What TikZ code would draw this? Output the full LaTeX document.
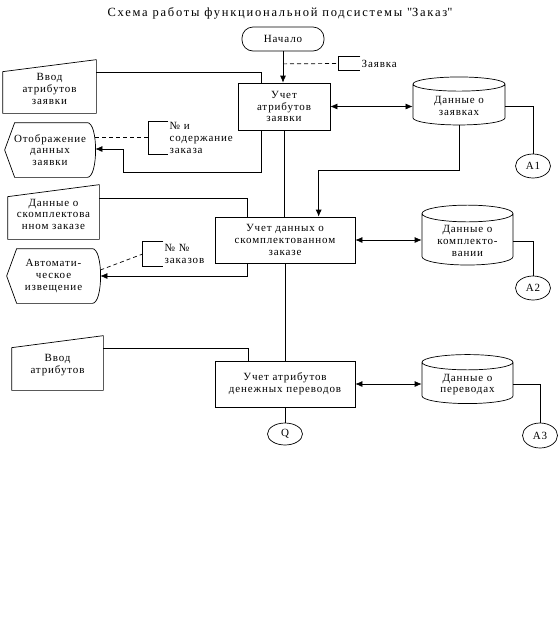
\documentclass[tikz,border=0pt]{standalone}
\usepackage{fontspec}
\setmainfont{Liberation Serif}[LetterSpace=8]
\usetikzlibrary{shapes.geometric,calc,positioning,arrows.meta}

\tikzset{
  proc/.style={draw, rectangle, align=center, minimum width=140pt, minimum height=46pt},
  db/.style={draw, cylinder, shape border rotate=90, aspect=0.25, align=center,
    minimum width=91pt, minimum height=48pt},
  conn/.style={draw, ellipse, inner sep=0pt, minimum width=35pt, minimum height=24pt},
  inbox/.style={rectangle, align=center, minimum width=91pt, minimum height=54pt},
  dispbox/.style={rectangle, align=center, minimum width=91pt, minimum height=54pt},
  brk/.style={rectangle, inner sep=0pt},
  note/.style={align=left, inner sep=1pt, anchor=west},
  dashline/.style={dash pattern=on 4pt off 3pt}
}

\begin{document}
\begin{tikzpicture}[x=1pt, y=-1pt, >={Latex[length=7pt,width=6pt]}, line width=0.7pt,
  every node/.style={font=\fontsize{11}{11.8}\selectfont}]
    \useasboundingbox (0,0) rectangle (560,630);

    \node[font=\fontsize{12.5}{14}\selectfont\addfontfeature{LetterSpace=14}] at (280, 13) (title) {Схема работы функциональной подсистемы \textquotedbl Заказ\textquotedbl};

    % first block
    \node[draw, rectangle, rounded corners=11pt, minimum width=82pt, minimum height=24pt] at (283, 39) (start) {Начало};
    \node[proc, minimum width=92pt, minimum height=47pt] at (284, 106.5) (uchet1) {Учет\\атрибутов\\заявки};
    \node[db, minimum width=92pt] at (459, 106) (dbzayav) {Данные о\\заявках};
    \node[conn] at (533, 166) (A1) {A1};
    \node[inbox, minimum width=93pt, minimum height=53pt] at (49.5, 86.5) (vvod1) {\\Ввод\\атрибутов\\заявки};
    \node[dispbox, minimum width=90pt] at (50, 150) (otobr) {Отображение\\данных\\заявки};
    \node[brk, minimum width=21pt, minimum height=13pt] at (349.5, 63.5) (brZ) {};
    \node[note, right=0pt of brZ] (tZ) {Заявка};
    \node[brk, minimum width=19pt, minimum height=32pt] at (158.5, 138) (brA) {};
    \node[note, right=0pt of brA] (tA) {№ и\\содержание\\заказа};

    % second block
    \node[proc] at (285, 240) (uchet2) {Учет данных о\\скомплектованном\\заказе};
    \node[db] at (467.5, 241) (dbkompl) {Данные о\\комплекто-\\вании};
    \node[conn] at (533, 288) (A2) {A2};
    \node[inbox] at (53.5, 212) (dannye) {\\Данные о\\скомплектова\\нном заказе};
    \node[dispbox, minimum width=93pt] at (53.5, 276) (avto) {Автомати-\\ческое\\извещение};
    \node[brk, minimum width=20pt, minimum height=24pt] at (153, 254) (brB) {};
    \node[note, right=0pt of brB] (tB) {№ №\\заказов};

    % third block
    \node[proc] at (285, 384) (uchet3) {Учет атрибутов\\денежных переводов};
    \node[db, minimum height=49pt] at (467.5, 384.5) (dbperev) {Данные о\\переводах};
    \node[conn, minimum height=25pt] at (540, 435.5) (A3) {A3};
    \node[conn, minimum height=22pt] at (285, 434) (Q) {Q};
    \node[inbox] at (57.5, 363) (vvod3) {\\Ввод\\атрибутов};

    % manual input and display outlines
    \foreach \n in {vvod1, dannye, vvod3}
        \draw (\n.south west) -- ($(\n.north west)+(0,12)$) -- (\n.north east) -- (\n.south east) -- cycle;
    \foreach \n in {otobr, avto}
        \draw (\n.west) -- ($(\n.north west)+(10,0)$) -- ($(\n.north east)+(-8,0)$)
            .. controls ($(\n.north east)+(3,0)$) and ($(\n.south east)+(3,0)$) .. ($(\n.south east)+(-8,0)$)
            -- ($(\n.south west)+(10,0)$) -- cycle;
    \foreach \b in {brZ, brA, brB}
        \draw (\b.north east) -- (\b.north west) -- (\b.south west) -- (\b.south east);

    % connectors
    \draw[->] (start.south) -- (start.south |- uchet1.north);
    \draw[dashline] ($(start.south)!0.4!(start.south |- uchet1.north)$) -- (brZ.west);
    \draw ($(vvod1.north east)+(0,13)$) -| ($(uchet1.north west)+(24,0)$);
    \draw[->] ($(uchet1.south west)+(24,0)$) -- ++(0,42) -| ($(otobr.east)+(28,-1)$) -- ($(otobr.east)+(0,-1)$);
    \draw[dashline] ($(otobr.east)+(0,-13)$) -- (brA.west |- {$(otobr.east)+(0,-13)$});
    \draw[<->] (uchet1.east) -- (uchet1.east -| dbzayav.west);
    \draw (dbzayav.east) -| (A1.north);
    \draw[->] (dbzayav.south) -- ++(0,45) -| ($(uchet2.north west)+(104,0)$);
    \draw (uchet1.south) -- (uchet1.south |- uchet2.north);

    \draw ($(dannye.north east)+(0,14)$) -| ($(uchet2.north west)+(33,0)$);
    \draw[->] ($(uchet2.south west)+(33,0)$) |- (avto.east);
    \draw[dashline] ($(avto.east)+(0,-6)$) -- (brB.west);
    \draw[<->] (uchet2.east) -- (uchet2.east -| dbkompl.west);
    \draw (dbkompl.east) -| (A2.north);
    \draw (uchet2.south) -- (uchet3.north);

    \draw ($(vvod3.north east)+(0,13)$) -| ($(uchet3.north west)+(34,0)$);
    \draw (uchet3.south) -- (Q.north);
    \draw[<->] (uchet3.east) -- (uchet3.east -| dbperev.west);
    \draw (dbperev.east) -| (A3.north);
\end{tikzpicture}
\end{document}
